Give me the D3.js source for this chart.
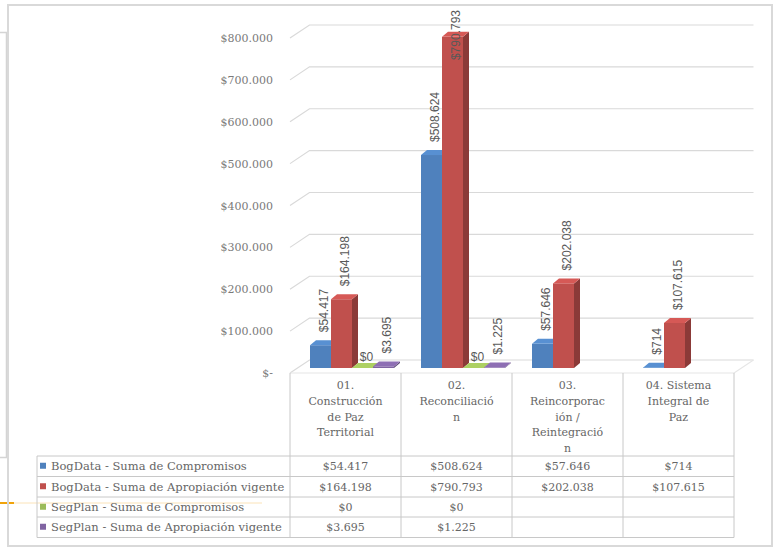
<!DOCTYPE html>
<html>
<head>
<meta charset="utf-8">
<script src="https://cdnjs.cloudflare.com/ajax/libs/d3/7.8.5/d3.min.js"></script>
<style>
body{margin:0;background:#fff;}
svg{display:block;}
</style>
</head>
<body>
<div class="chart-parent"></div>
<script>
// values (millions of pesos)
var categories = ["01. Construcción de Paz Territorial", "02. Reconciliación", "03. Reincorporación / Reintegración", "04. Sistema Integral de Paz"];
var categoryLines = [["01.", "Construcción", "de Paz", "Territorial"], ["02.", "Reconciliació", "n"], ["03.", "Reincorporac", "ión /", "Reintegració", "n"], ["04. Sistema", "Integral de", "Paz"]];
var seriesNames = ["BogData - Suma de Compromisos", "BogData - Suma de Apropiación vigente", "SegPlan - Suma de Compromisos", "SegPlan - Suma de Apropiación vigente"];
var bogCompromisos = [54417, 508624, 57646, 714];
var bogApropiacion = [164198, 790793, 202038, 107615];
var segCompromisos = [0, 0, null, null];
var segApropiacion = [3695, 1225, null, null];
var seriesColors = ["#4f81bd", "#c0504d", "#9bbb59", "#8064a2"];
var yTicks = [0, 100000, 200000, 300000, 400000, 500000, 600000, 700000, 800000];

var seriesValues = [bogCompromisos, bogApropiacion, segCompromisos, segApropiacion];

drawChart();

function drawChart(){
    var width = 776, height = 548;
    var es = d3.formatLocale({decimal: ",", thousands: ".", grouping: [3], currency: ["$", ""]});
    var money = es.format("$,.0f");

    var svg = d3.select(".chart-parent").append("svg")
        .attr("width", width)
        .attr("height", height);

    // bits of the slide behind the chart
    svg.append("path").attr("d", "M0,32.5H6.5V457.5H0").attr("fill", "none").attr("stroke", "#d4d4d4").attr("stroke-width", 1.5);
    svg.append("line").attr("x1", 0).attr("x2", 14).attr("y1", 503).attr("y2", 503).attr("stroke", "#f0a30a").attr("stroke-width", 2);
    svg.append("line").attr("x1", 14).attr("x2", 262).attr("y1", 503).attr("y2", 503).attr("stroke", "#fbe3b8").attr("stroke-width", 1);

    // chart area frame
    svg.append("rect").attr("x", 8).attr("y", 5).attr("width", 764).attr("height", 541)
        .attr("fill", "none").attr("stroke", "#d9d9d9").attr("stroke-width", 2);

    var x = d3.scaleBand().domain(categories).range([290, 734]);
    var slot = d3.scaleBand().domain(seriesNames).range([13, 13 + 4 * 21]);
    var y = d3.scaleLinear().domain([0, 800000]).range([373, 38]);

    var wallDx = 19.5, wallDy = -13;   // depth of the back wall
    var barOx = 7, barOy = -5;         // front face of the columns
    var barDx = 6, barDy = -5;         // column depth

    var grid = svg.append("g").attr("stroke", "#d9d9d9").attr("stroke-width", 1.2).attr("fill", "none");
    yTicks.forEach(function(t){
        var yy = y(t);
        grid.append("path")
            .attr("d", "M" + x.range()[0] + "," + yy + "L" + (x.range()[0] + wallDx) + "," + (yy + wallDy) + "H" + (x.range()[1] + wallDx));
    });
    // floor front edge
    grid.append("line").attr("x1", x.range()[0]).attr("x2", x.range()[1]).attr("y1", y(0)).attr("y2", y(0)).attr("stroke", "#e6e6e6");
    grid.append("line").attr("x1", x.range()[1]).attr("x2", x.range()[1] + wallDx).attr("y1", y(0)).attr("y2", y(0) + wallDy).attr("stroke", "#e6e6e6");

    // y axis labels
    svg.append("g").selectAll("text")
        .data(yTicks)
        .enter()
        .append("text")
        .attr("x", 273)
        .attr("y", function(d){ return y(d) + 4; })
        .attr("text-anchor", "end")
        .attr("font-family", "DejaVu Serif")
        .attr("font-size", 11)
        .attr("fill", "#7a7a7a")
        .text(function(d){ return d === 0 ? "$-" : money(d); });

    // 3D columns
    var bars = svg.append("g");
    var labelData = [];
    categories.forEach(function(cat, ci){
        seriesNames.forEach(function(s, si){
            var v = seriesValues[si][ci];
            if (v === null) return;
            var x0 = x(cat) + slot(s) + barOx;
            var w = slot.bandwidth();
            var yb = y(0) + barOy;
            var yt = y(v) + barOy;
            var c = d3.color(seriesColors[si]);
            // side
            bars.append("path")
                .attr("d", "M" + (x0 + w) + "," + yb + "L" + (x0 + w + barDx) + "," + (yb + barDy) + "L" + (x0 + w + barDx) + "," + (yt + barDy) + "L" + (x0 + w) + "," + yt + "Z")
                .attr("fill", c.darker(0.9));
            // front
            bars.append("rect")
                .attr("x", x0).attr("y", yt).attr("width", w).attr("height", Math.max(yb - yt, 0))
                .attr("fill", c);
            // top
            bars.append("path")
                .attr("d", "M" + x0 + "," + yt + "L" + (x0 + barDx) + "," + (yt + barDy) + "H" + (x0 + w + barDx) + "L" + (x0 + w) + "," + yt + "Z")
                .attr("fill", c.brighter(0.3));
            labelData.push({v: v, cx: x0 + w / 2 + barDx / 2, top: yt + barDy});
        });
    });

    // data labels, rotated like in Excel
    var labels = svg.append("g")
        .attr("font-family", "Liberation Sans")
        .attr("font-size", 12)
        .attr("fill", "#595959");
    labelData.forEach(function(d){
        if (d.v === 0){
            labels.append("text")
                .attr("x", d.cx + 1).attr("y", d.top - 2)
                .attr("text-anchor", "middle")
                .text(money(d.v));
            return;
        }
        var t = labels.append("text")
            .attr("text-anchor", "start")
            .attr("dominant-baseline", "central")
            .text(money(d.v));
        var len = t.node().getComputedTextLength();
        var bottom = Math.max(d.top - 8, 10 + len);
        t.attr("transform", "translate(" + d.cx + "," + bottom + ") rotate(-90)");
    });

    // data table
    var table = svg.append("g").attr("font-family", "DejaVu Serif").attr("font-size", 11).attr("fill", "#666");
    var rowTop = [456, 476.5, 497, 517];
    var rowH = 20.5;
    var tableLeft = 37;
    var lines = table.append("g").attr("stroke", "#c8c8c8").attr("stroke-width", 1);
    rowTop.concat([rowTop[3] + rowH]).forEach(function(ry){
        lines.append("line").attr("x1", tableLeft).attr("x2", x.range()[1]).attr("y1", ry).attr("y2", ry);
    });
    lines.append("line").attr("x1", tableLeft).attr("x2", tableLeft).attr("y1", rowTop[0]).attr("y2", rowTop[3] + rowH);
    x.domain().concat(["end"]).forEach(function(cat){
        var xx = cat === "end" ? x.range()[1] : x(cat);
        lines.append("line").attr("x1", xx).attr("x2", xx).attr("y1", y(0)).attr("y2", rowTop[3] + rowH);
    });

    categoryLines.forEach(function(ls, ci){
        var cx = x(categories[ci]) + x.bandwidth() / 2;
        ls.forEach(function(l, li){
            table.append("text")
                .attr("x", cx).attr("y", 389 + li * 15.8)
                .attr("text-anchor", "middle")
                .text(l);
        });
    });

    seriesNames.forEach(function(s, si){
        var ry = rowTop[si] + rowH / 2;
        table.append("rect").attr("x", 40).attr("y", ry - 3.5).attr("width", 6).attr("height", 6).attr("fill", seriesColors[si]);
        table.append("text").attr("x", 51).attr("y", ry + 4).attr("font-size", 11.5).text(s);
        categories.forEach(function(cat, ci){
            var v = seriesValues[si][ci];
            if (v === null) return;
            table.append("text")
                .attr("x", x(cat) + x.bandwidth() / 2).attr("y", ry + 4)
                .attr("text-anchor", "middle")
                .text(money(v));
        });
    });
}
</script>
</body>
</html>
